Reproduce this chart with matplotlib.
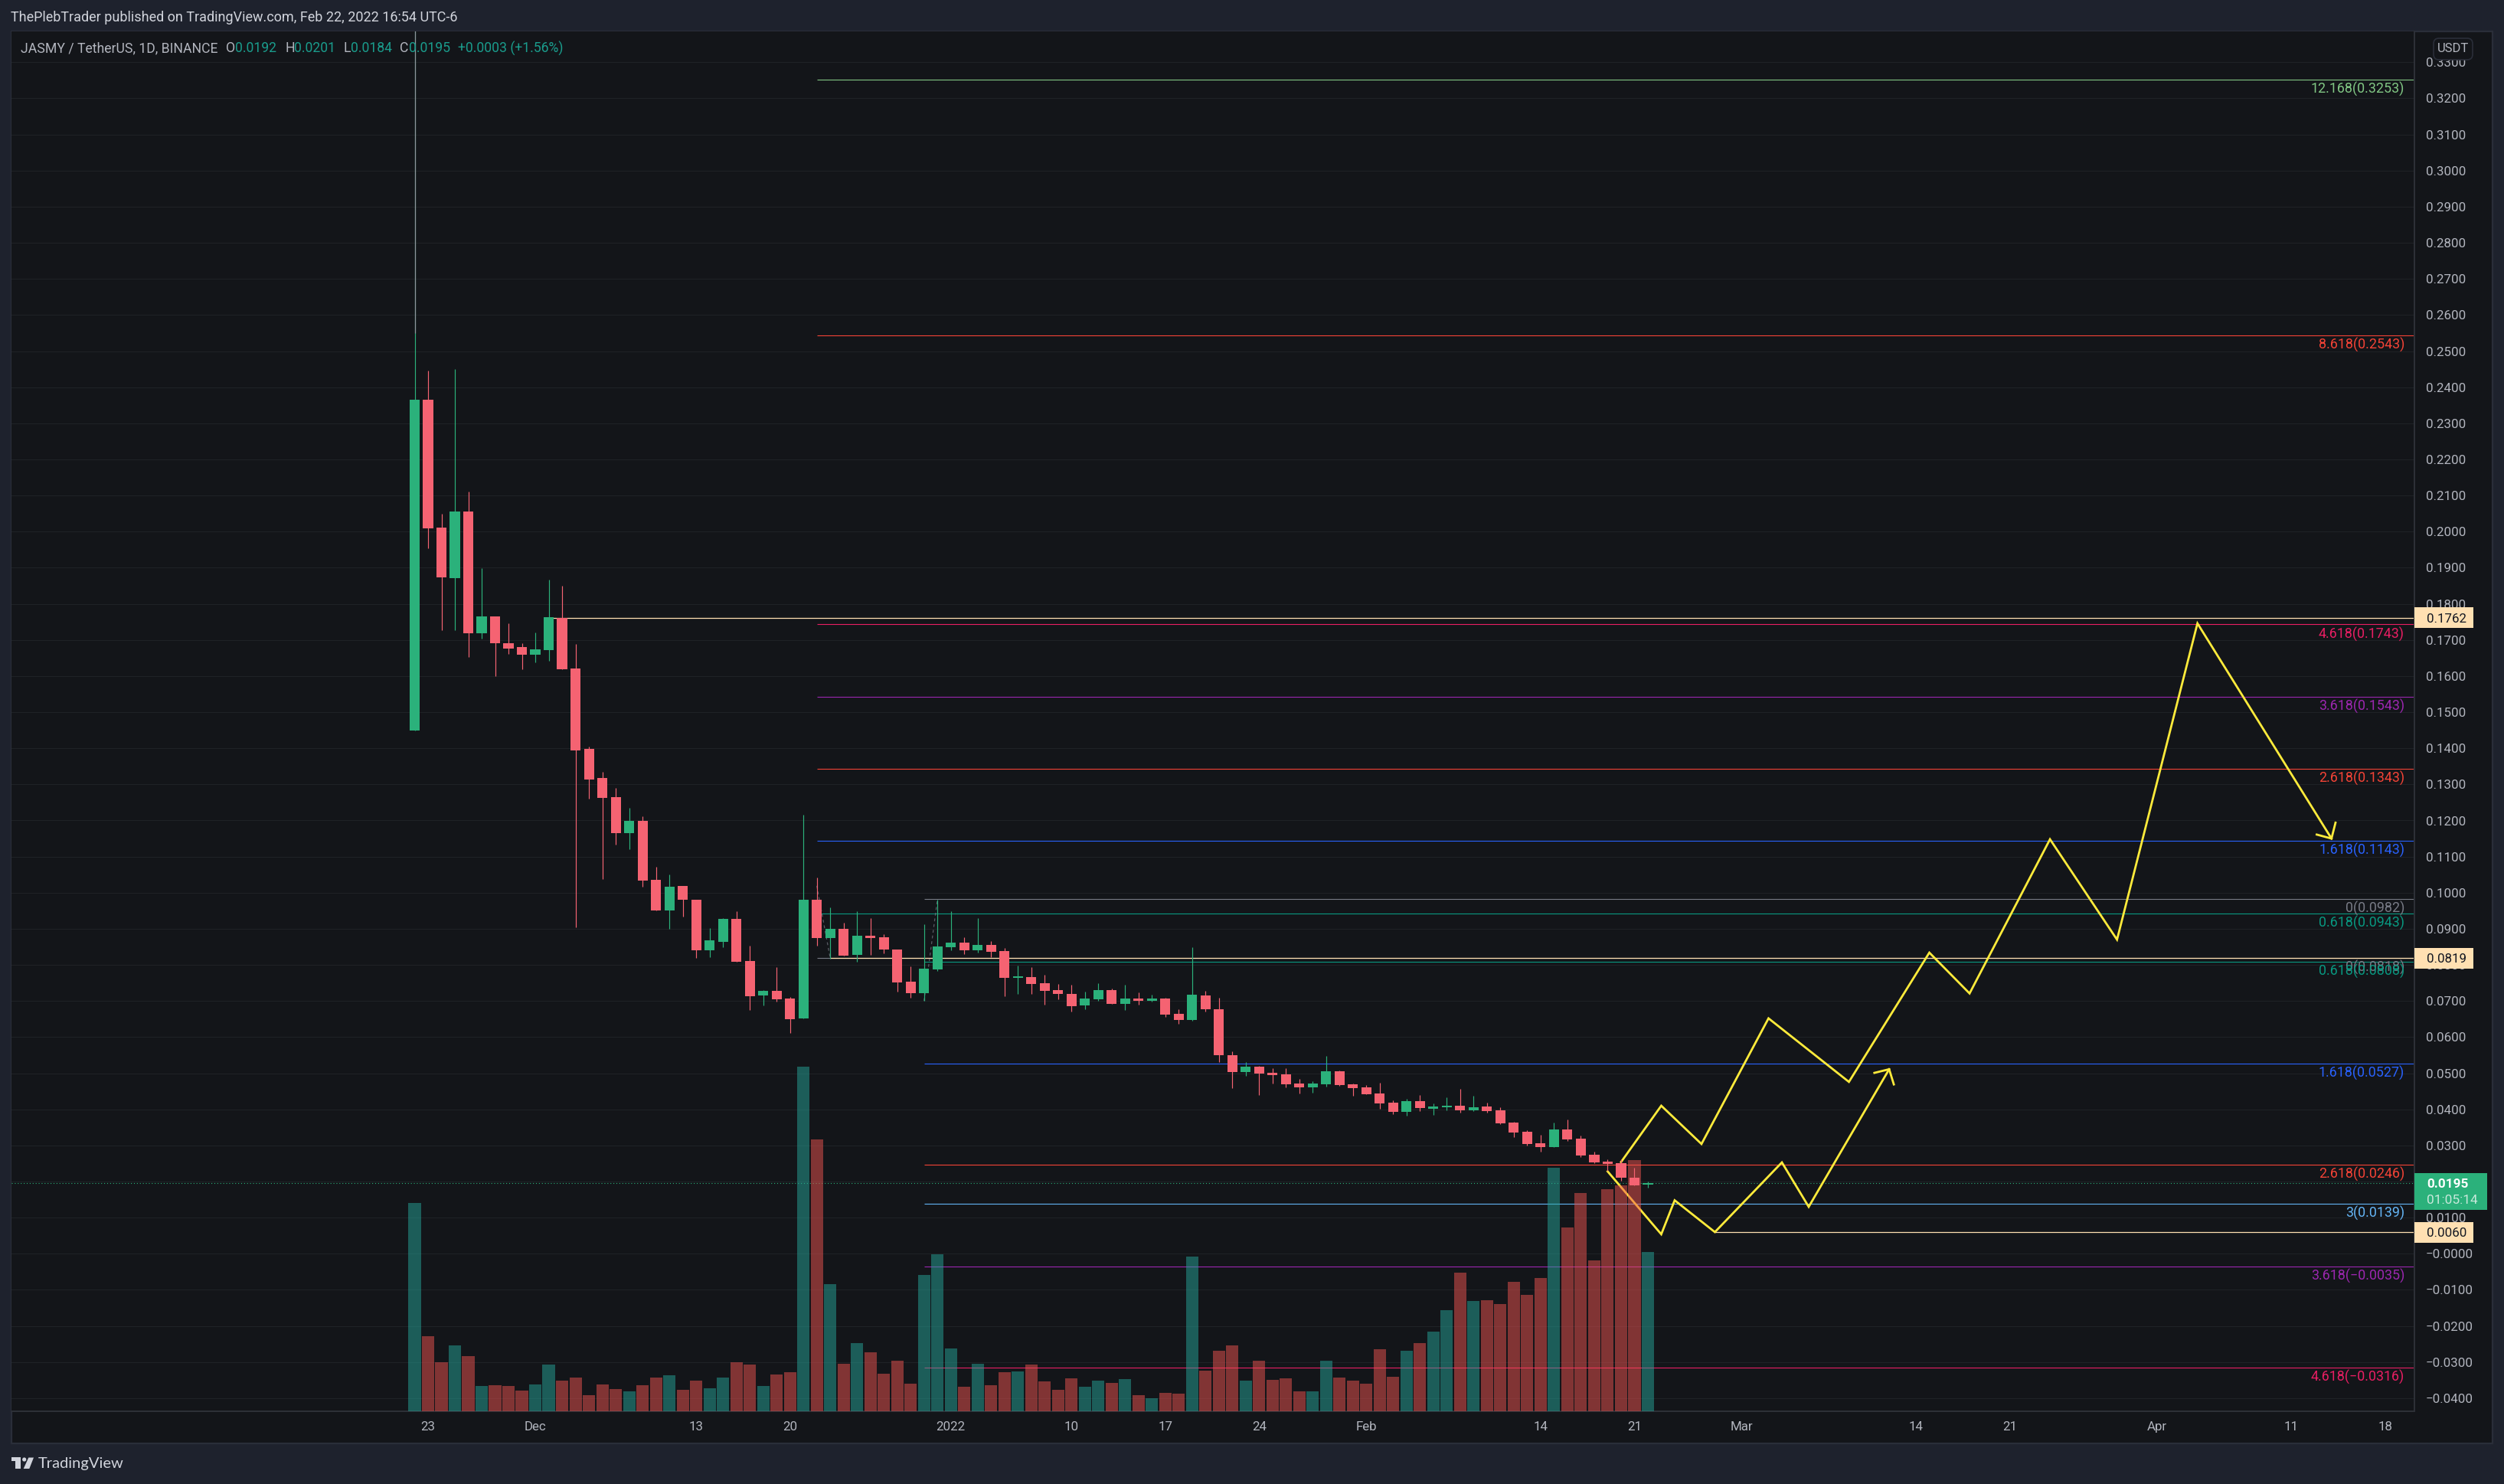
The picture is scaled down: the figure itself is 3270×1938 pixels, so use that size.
import matplotlib
matplotlib.use("Agg")
import matplotlib.pyplot as plt
from matplotlib.patches import Rectangle, FancyBboxPatch, Polygon, Circle
from matplotlib.transforms import Affine2D, blended_transform_factory

plt.rcParams['font.family'] = ['Roboto', 'DejaVu Sans']
plt.rcParams['axes.axisbelow'] = True

# ---------- data ----------
opens = [.1449,.2365,.2011,.1871,.2055,.1718,.1765,.1692,.1680,.1659,.1671,.1761,.1621,.1398,.1318,.1265,.1165,.1199,.1036,.0951,
         .1019,.0981,.0841,.0864,.0928,.0811,.0716,.0728,.0707,.0652,.0980,.0874,.0900,.0828,.0881,.0876,.0843,.0753,.0722,.0787,
         .0849,.0862,.0840,.0855,.0838,.0764,.0766,.0749,.0730,.0720,.0688,.0705,.0730,.0692,.0707,.0700,.0707,.0664,.0647,.0715,
         .0677,.0550,.0503,.0518,.0501,.0497,.0472,.0461,.0470,.0506,.0470,.0461,.0444,.0419,.0393,.0423,.0402,.0406,.0410,.0397,
         .0408,.0397,.0363,.0338,.0306,.0296,.0344,.0319,.0274,.0255,.0251,.0211,.0192]
closes = [.2365,.2009,.1873,.2055,.1718,.1765,.1692,.1676,.1659,.1674,.1763,.1618,.1394,.1313,.1263,.1165,.1199,.1034,.0951,.1017,
          .0981,.0841,.0868,.0928,.0809,.0714,.0728,.0705,.0650,.0981,.0874,.0900,.0826,.0881,.0874,.0843,.0751,.0722,.0790,.0851,
          .0862,.0840,.0855,.0836,.0764,.0768,.0747,.0728,.0720,.0686,.0707,.0730,.0692,.0707,.0700,.0707,.0662,.0647,.0717,.0677,
          .0550,.0503,.0518,.0499,.0495,.0470,.0461,.0472,.0506,.0467,.0459,.0442,.0416,.0393,.0423,.0404,.0408,.0410,.0397,.0406,
          .0395,.0361,.0336,.0304,.0296,.0344,.0317,.0272,.0253,.0249,.0211,.0190,.0195]
highs = [.3400,.2446,.2049,.2450,.2110,.1899,.1765,.1746,.1692,.1720,.1868,.1850,.1688,.1404,.1335,.1290,.1235,.1212,.1072,.1051,
         .1019,.0981,.0902,.0930,.0949,.0853,.0730,.0794,.0711,.1216,.1042,.0959,.0917,.0949,.0930,.0885,.0843,.0796,.0913,.0980,
         .0949,.0877,.0930,.0866,.0847,.0798,.0794,.0773,.0747,.0745,.0726,.0749,.0734,.0745,.0724,.0717,.0709,.0677,.0849,.0728,
         .0709,.0561,.0531,.0520,.0514,.0514,.0484,.0478,.0548,.0508,.0472,.0467,.0474,.0425,.0429,.0440,.0416,.0433,.0457,.0438,
         .0419,.0406,.0366,.0342,.0330,.0363,.0372,.0327,.0283,.0262,.0262,.0238,.0201]
lows = [.1449,.1955,.1726,.1726,.1653,.1703,.1599,.1661,.1618,.1637,.1642,.1618,.0904,.1260,.1038,.1133,.1121,.1017,.0951,.0900,
        .0934,.0820,.0822,.0849,.0809,.0675,.0688,.0699,.0612,.0652,.0853,.0818,.0826,.0809,.0828,.0832,.0726,.0709,.0700,.0783,
        .0840,.0830,.0834,.0821,.0713,.0720,.0720,.0690,.0705,.0671,.0677,.0700,.0692,.0675,.0690,.0698,.0656,.0637,.0645,.0671,
        .0531,.0459,.0493,.0440,.0472,.0461,.0444,.0446,.0463,.0465,.0438,.0442,.0402,.0387,.0383,.0395,.0385,.0397,.0391,.0395,
        .0391,.0359,.0323,.0300,.0283,.0296,.0313,.0268,.0251,.0230,.0202,.0190,.0184]
volumes = [272,98,64,86,72,33,34,33,27,35,61,40,44,21,35,29,26,34,44,47,28,40,30,44,64,61,33,48,51,450,355,166,62,89,77,49,66,36,178,205,
           82,32,62,34,51,52,61,39,28,43,32,40,37,42,21,17,24,23,202,53,79,86,40,66,41,43,26,26,66,44,40,36,81,45,79,89,104,132,181,144,
           145,140,169,152,174,318,240,285,197,290,295,328,208]

path_a_x = [90,93,96,101,107,113,116,122,127,133,143]
path_a_y = [.0254,.0410,.0304,.0652,.0476,.0834,.0721,.1148,.0870,.1746,.1150]
head_a_x = [141.9,143,143.3]
head_a_y = [.1161,.1150,.1194]
path_b_x = [89,93,94,97,102,104,110]
path_b_y = [.0228,.0054,.0148,.0060,.0253,.0130,.0511]
head_b_x = [108.9,110,110.35]
head_b_y = [.0501,.0511,.0469]

fib_one_start = 30
fib_one_levels = [("0(0.0818)",.0819,'#787b86'),("0.618(0.0943)",.0943,'#089981'),("1.618(0.1143)",.1143,'#2962ff'),
                  ("2.618(0.1343)",.1343,'#f44336'),("3.618(0.1543)",.1543,'#9c27b0'),("4.618(0.1743)",.1743,'#e91e63'),
                  ("8.618(0.2543)",.2543,'#f44336'),("12.168(0.3253)",.3253,'#81c784')]
fib_two_start = 38
fib_two_levels = [("0(0.0982)",.0982,'#787b86'),("0.618(0.0808)",.0808,'#089981'),("1.618(0.0527)",.0527,'#2962ff'),
                  ("2.618(0.0246)",.0246,'#f44336'),("3(0.0139)",.0139,'#64b5f6'),("3.618(\u22120.0035)",-.0035,'#9c27b0'),
                  ("4.618(\u22120.0316)",-.0316,'#e91e63')]
fib_trend_x = [[30,31],[38,39]]
fib_trend_y = [[.1019,.0819],[.0700,.0982]]

ray_prices = [.1762,.0819,.0060]
ray_starts = [10,31,97]
last_price = .0195
pale_wick_from = .2550

xtick_pos = [1,9,21,28,40,49,56,63,71,84,91,99,112,119,130,140,147]
xtick_lab = ['23','Dec','13','20','2022','10','17','24','Feb','14','21','Mar','14','21','Apr','11','18']
ytick_vals = [round(-0.04+0.01*i,2) for i in range(38)]

# ---------- style ----------
W,H = 3270,1938
OUTER='#1e222d'; BG='#131519'; GRID='#1f2226'; EDGE='#2a2e39'; AX_TXT='#b2b5be'
UP='#2bb17b'; DOWN='#f56372'; VUP='#26a69a'; VDN='#ef5350'; PALE='#ffe0b2'; YEL='#ffeb3b'; TEAL='#1a9c8c'

fig = plt.figure(figsize=(W/100,H/100),dpi=100,facecolor=OUTER)
PX = Affine2D().scale(1/W,-1/H).translate(0,1)+fig.transFigure

fig.add_artist(Rectangle((15,41),3240,1844,transform=PX,facecolor=BG,edgecolor=EDGE,lw=1.6,zorder=-5))
L,R,T,B = 15,3153,41,1843
ax = fig.add_axes([L/W,1-B/H,(R-L)/W,(B-T)/H],facecolor=BG)
ax.set_xlim((L-541.5)/17.505,(R-541.5)/17.505)
ymin,ymax = (1637.3-B)/4715,(1637.3-T)/4715
ax.set_ylim(ymin,ymax)
for s in ['top','left']: ax.spines[s].set_visible(False)
for s in ['bottom','right']:
    ax.spines[s].set_color('#2e3138'); ax.spines[s].set_linewidth(1.4)
ax.yaxis.tick_right()
ax.set_yticks(ytick_vals)
ax.set_yticklabels([('\u2212' if v<=0 else '')+f'{abs(v):.4f}' for v in ytick_vals])
ax.tick_params(axis='y',length=0,pad=10.5,labelsize=12.2,labelcolor=AX_TXT)
ax.set_xticks(xtick_pos); ax.set_xticklabels(xtick_lab)
ax.tick_params(axis='x',length=0,pad=9.5,labelsize=12.2,labelcolor=AX_TXT)
ax.grid(axis='y',color=GRID,lw=.8)

xright = ax.get_xlim()[1]
right_trans = blended_transform_factory(ax.transAxes,ax.transData)

# fib levels
for start,levels in ((fib_one_start,fib_one_levels),(fib_two_start,fib_two_levels)):
    for lab,p,c in levels:
        ax.hlines(p,start,xright,color=c,lw=.8,zorder=1)
        ax.annotate(lab,xy=(1,p),xycoords=right_trans,xytext=(-13,-12.5),textcoords='offset pixels',
                    ha='right',va='center',color=c,fontsize=12.9,zorder=6,annotation_clip=False)
for tx,ty in zip(fib_trend_x,fib_trend_y):
    ax.plot(tx,ty,color='#787b86',lw=.9,ls=(0,(3,3)),alpha=.7,zorder=1)
# rays
for p,s in zip(ray_prices,ray_starts):
    ax.hlines(p,s,xright,color=PALE,lw=.9,zorder=1.5)
ax.axhline(last_price,color=UP,lw=.8,ls=(0,(1,2.5)),zorder=1.2)

# yellow drawings
for px_,py_ in ((path_a_x,path_a_y),(head_a_x,head_a_y),(path_b_x,path_b_y),(head_b_x,head_b_y)):
    ax.plot(px_,py_,color=YEL,lw=2.0,zorder=2,solid_joinstyle='miter')

# volume (px-like units mapped onto the price axis)
k = 1/4715
xs = list(range(len(opens)))
up = [c>=o for o,c in zip(opens,closes)]
ax.bar(xs,[v*k for v in volumes],bottom=ymin,width=.92,color=[VUP if u else VDN for u in up],alpha=.5,zorder=3,lw=0)

# candles
col = [UP if u else DOWN for u in up]
ax.vlines(xs,lows,highs,color=col,lw=.85,zorder=4)
ax.vlines(xs[0],pale_wick_from,highs[0],color='#8f949c',lw=.85,zorder=4.05)
ax.bar(xs,[abs(c-o) for o,c in zip(opens,closes)],bottom=[min(o,c) for o,c in zip(opens,closes)],
       width=.75,color=col,lw=0,zorder=4.1)

# price tags
def tag(p,txt):
    ax.add_patch(Rectangle((1,p-13.5/4715),77/(R-L),27/4715,transform=right_trans,facecolor=PALE,lw=0,clip_on=False,zorder=7))
    ax.annotate(txt,xy=(1,p),xycoords=right_trans,xytext=(16,0),textcoords='offset pixels',ha='left',va='center_baseline',
                color='#131722',fontsize=12.2,zorder=8,annotation_clip=False)
for p in ray_prices: tag(p,f'{p:.4f}')
ax.add_patch(Rectangle((1,last_price-(1580-1545.3)/4715),95/(R-L),48/4715,transform=right_trans,facecolor=UP,lw=0,clip_on=False,zorder=7))
ax.annotate(f'{last_price:.4f}',xy=(1,last_price),xycoords=right_trans,xytext=(16,0),textcoords='offset pixels',ha='left',va='center_baseline',
            color='white',fontsize=12.4,fontweight='bold',zorder=8,annotation_clip=False)
ax.annotate('01:05:14',xy=(1,last_price),xycoords=right_trans,xytext=(16,-21),textcoords='offset pixels',ha='left',va='center_baseline',
            color='#c9e9dc',fontsize=12.4,zorder=8,annotation_clip=False)

# USDT badge
fig.add_artist(FancyBboxPatch((3181,53),45,22,boxstyle='round,pad=3,rounding_size=7',transform=PX,facecolor=BG,edgecolor=EDGE,lw=1.2,zorder=9))
fig.text(3204,63.5,'USDT',transform=PX,ha='center',va='center',color=AX_TXT,fontsize=12,zorder=10)

# header and legend
fig.text(14,23,'ThePlebTrader published on TradingView.com, Feb 22, 2022 16:54 UTC-6',transform=PX,ha='left',va='center',color='#d1d4dc',fontsize=13)
legend = [(27,'JASMY / TetherUS, 1D, BINANCE',AX_TXT),(295,'O',AX_TXT),(307,'0.0192',TEAL),(372,'H',AX_TXT),(384,'0.0201',TEAL),
          (448,'L',AX_TXT),(458,'0.0184',TEAL),(522,'C',AX_TXT),(534,'0.0195',TEAL),(598,'+0.0003 (+1.56%)',TEAL)]
for x,t,c in legend:
    fig.text(x,63,t,transform=PX,ha='left',va='center',color=c,fontsize=12.7,zorder=10)

# logo
LOGO='#d1d4dc'
fig.add_artist(Polygon([(15,1903.5),(26.7,1903.5),(26.7,1918),(20,1918),(20,1908.5),(15,1908.5)],transform=PX,facecolor=LOGO,lw=0))
fig.add_artist(Circle((31.7,1906),2.6,transform=PX,facecolor=LOGO,lw=0))
fig.add_artist(Polygon([(37.3,1903.5),(44,1903.5),(38.3,1918),(30.7,1918)],transform=PX,facecolor=LOGO,lw=0))
fig.text(50,1912,'TradingView',transform=PX,ha='left',va='center',color=LOGO,fontsize=14.5,family='Lato')

fig.savefig('out.png',dpi=100,facecolor=OUTER)
